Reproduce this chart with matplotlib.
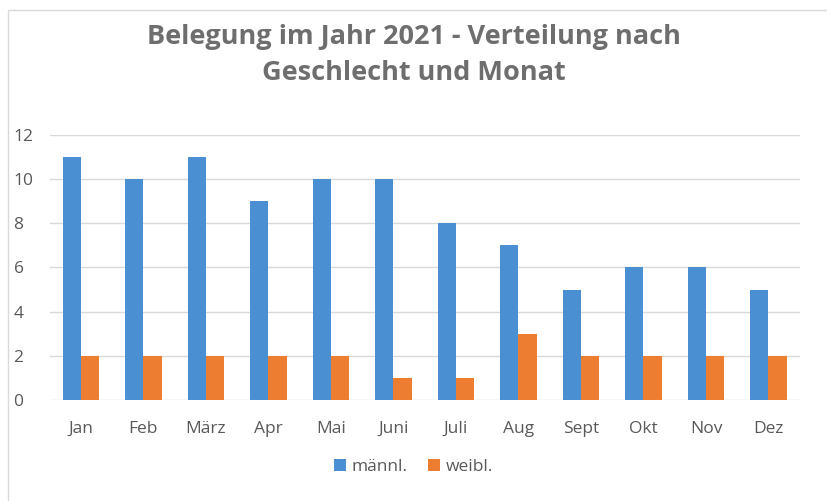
import numpy as np
import matplotlib.pyplot as plt
from matplotlib.patches import Rectangle

monate = ["Jan", "Feb", "März", "Apr", "Mai", "Juni", "Juli", "Aug", "Sept", "Okt", "Nov", "Dez"]
maennl = [11, 10, 11, 9, 10, 10, 8, 7, 5, 6, 6, 5]
weibl = [2, 2, 2, 2, 2, 1, 1, 3, 2, 2, 2, 2]

blau = "#4a8fd1"
orange = "#ed7d31"
grau = "#595959"

plt.rcParams['font.family'] = ['Open Sans', 'DejaVu Sans']

fig = plt.figure(figsize=(8.27, 5.01), dpi=100)
ax = fig.add_axes([0.06, 0.2016, 0.907, 0.529])

x = np.arange(len(monate))
w = 0.29
ax.bar(x - w / 2, maennl, w, color=blau, label="männl.", zorder=3)
ax.bar(x + w / 2, weibl, w, color=orange, label="weibl.", zorder=3)

ax.set_xlim(-0.5, len(monate) - 0.5)
ax.set_ylim(0, 12)
ax.set_yticks(range(0, 13, 2))
ax.set_xticks(x)
ax.set_xticklabels(monate)
ax.tick_params(axis='both', length=0, labelsize=12.5, colors=grau)
ax.tick_params(axis='x', pad=15)
ax.tick_params(axis='y', pad=26)
for lab in ax.get_yticklabels():
    lab.set_horizontalalignment('left')
ax.grid(axis='y', color="#d9d9d9", linewidth=1, zorder=0)
for s in ax.spines.values():
    s.set_visible(False)

fig.text(0.5, 0.89, "Belegung im Jahr 2021 - Verteilung nach\nGeschlecht und Monat",
         ha='center', va='center', fontsize=19.5, fontweight='bold', color="#6e6e6e",
         linespacing=1.5)

fig.legend(loc='center', bbox_to_anchor=(0.5, 0.068), ncol=2, frameon=False,
           fontsize=12.5, labelcolor=grau, handlelength=0.7, handleheight=0.7,
           handletextpad=0.3, columnspacing=1.2)

fig.patches.append(Rectangle((0.01, -0.01), 1.0, 0.99, transform=fig.transFigure,
                             fill=False, edgecolor="#d9d9d9", linewidth=1))

fig.savefig("out.png", dpi=100)
